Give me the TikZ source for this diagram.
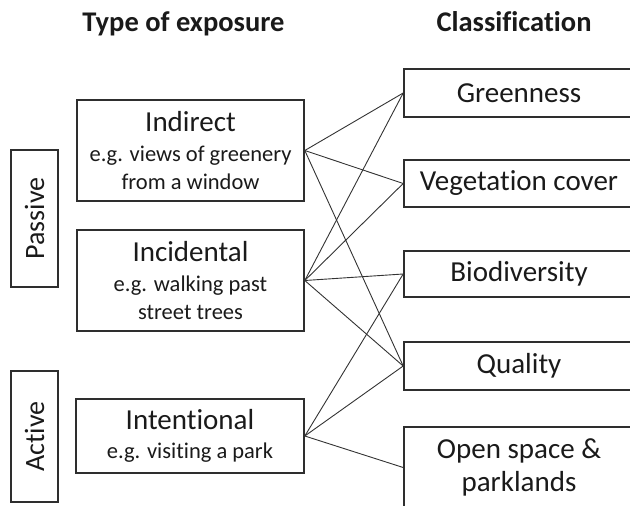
\documentclass[tikz,border=0pt]{standalone}
\usepackage{fontspec}
\setmainfont{Carlito}[Ligatures=NoCommon]
\definecolor{boxc}{HTML}{2E2E2E}
\definecolor{linec}{HTML}{333333}
\definecolor{txt}{HTML}{1A1A1A}
\newcommand\myMain{\fontsize{29}{34}\selectfont}
\newcommand\myRot{\fontsize{28}{33}\selectfont}
\newcommand\mySub{\fontsize{22.5}{27}\selectfont}
\newcommand\myHead{\bfseries\fontsize{28.5}{34}\selectfont}
\begin{document}
\begin{tikzpicture}[x=1pt,y=-1pt,
  box/.style={draw=boxc, line width=1.6pt, rectangle, inner sep=0pt, align=center, text=txt},
  link/.style={draw=linec, line width=0.9pt},
  head/.style={font=\myHead, text=txt, inner sep=0pt, anchor=base}]
\useasboundingbox (0,0) rectangle (630,506);
\clip (0,0) rectangle (630,506);
% titles
\node[head] (t1) at (183.5,31) {Type of exposure};
\node[head] (t2) at (514,31) {Classification};
% left boxes
\node[box, minimum width=227pt, minimum height=101pt, font=\mySub] (ind) at (190.5,150.5)
  {{\myMain Indirect}\\[3pt]e.g. views of greenery\\[1pt]from a window};
\node[box, minimum width=227pt, minimum height=101pt, font=\mySub] (inc) at (190.5,280.5)
  {{\myMain Incidental}\\[3pt]e.g. walking past\\[1pt]street trees};
\node[box, minimum width=228pt, minimum height=74pt, font=\mySub] (int) at (190,436)
  {{\myMain Intentional}\\[2pt]e.g. visiting a park};
\node[box, minimum width=47pt, minimum height=137pt, font=\myRot] (pas) at (34.5,218.5)
  {\rotatebox{90}{Passive}};
\node[box, minimum width=47pt, minimum height=131pt, font=\myRot] (act) at (34.5,436.5)
  {\rotatebox{90}{Active}};
% right boxes
\node[box, minimum width=230pt, minimum height=48pt, font=\myMain] (gre) at (519,93) {Greenness};
\node[box, minimum width=230pt, minimum height=47pt, font=\myMain] (veg) at (519,183.5) {Vegetation cover};
\node[box, minimum width=230pt, minimum height=46pt, font=\myMain] (bio) at (519,274) {Biodiversity};
\node[box, minimum width=230pt, minimum height=48pt, font=\myMain] (qua) at (519,366) {Quality};
\node[box, minimum width=230pt, minimum height=81pt, font=\myMain] (ope) at (519,467.5)
  {Open space \&\\[-1pt]parklands};
% connectors
\draw[link] (ind.east) -- (gre.west);
\draw[link] (ind.east) -- (veg.west);
\draw[link] (ind.east) -- (qua.west);
\draw[link] (inc.east) -- (gre.west);
\draw[link] (inc.east) -- (veg.west);
\draw[link] (inc.east) -- (bio.west);
\draw[link] (inc.east) -- (qua.west);
\draw[link] (int.east) -- (bio.west);
\draw[link] (int.east) -- (qua.west);
\draw[link] (int.east) -- (ope.west);
\end{tikzpicture}
\end{document}
